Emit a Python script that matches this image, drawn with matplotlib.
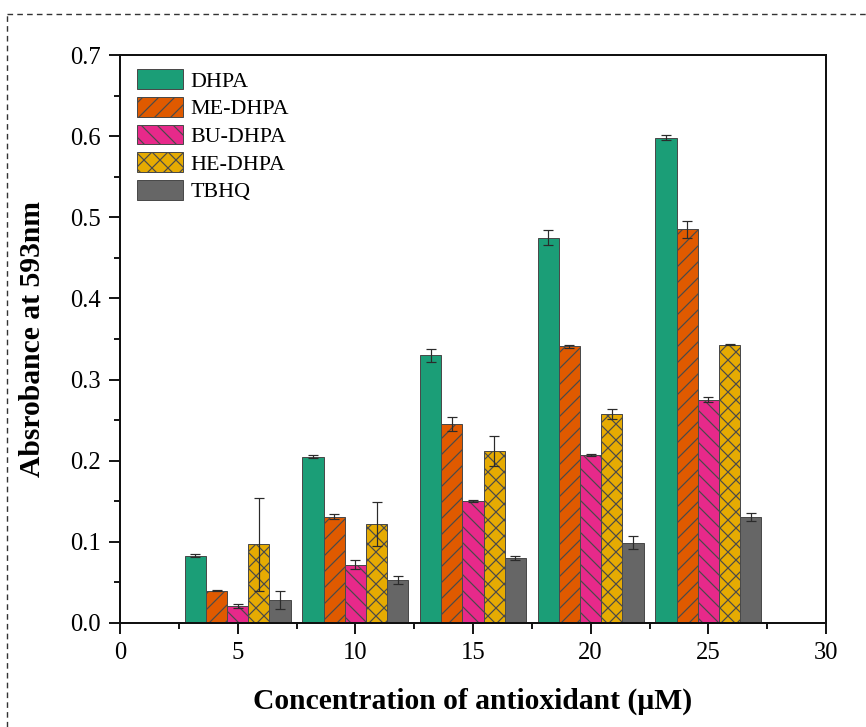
import matplotlib
matplotlib.use("Agg")
import matplotlib.pyplot as plt
import numpy as np
from matplotlib.ticker import MultipleLocator
from matplotlib.lines import Line2D

# Concentrations (uM) and absorbance readings with standard deviations
concentrations = [5, 10, 15, 20, 25]
series_names = ["DHPA", "ME-DHPA", "BU-DHPA", "HE-DHPA", "TBHQ"]

dhpa = [0.083, 0.205, 0.330, 0.475, 0.598]
me_dhpa = [0.040, 0.131, 0.245, 0.341, 0.485]
bu_dhpa = [0.021, 0.072, 0.150, 0.207, 0.275]
he_dhpa = [0.097, 0.122, 0.212, 0.258, 0.343]
tbhq = [0.028, 0.053, 0.080, 0.099, 0.131]

dhpa_err = [0.002, 0.002, 0.008, 0.009, 0.003]
me_dhpa_err = [0.001, 0.003, 0.009, 0.002, 0.010]
bu_dhpa_err = [0.002, 0.006, 0.001, 0.001, 0.003]
he_dhpa_err = [0.057, 0.027, 0.018, 0.006, 0.001]
tbhq_err = [0.011, 0.005, 0.003, 0.008, 0.005]

values = [dhpa, me_dhpa, bu_dhpa, he_dhpa, tbhq]
errors = [dhpa_err, me_dhpa_err, bu_dhpa_err, he_dhpa_err, tbhq_err]
colors = ["#1b9e77", "#e05a00", "#e7298a", "#e6ab02", "#666666"]
hatches = ["", "///", "\\\\\\", "xxx", ""]

plt.rcParams["font.family"] = ["Liberation Serif", "DejaVu Serif"]
plt.rcParams["hatch.linewidth"] = 0.6
plt.rcParams["hatch.color"] = "#2a1f14"

DPI = 144
fig = plt.figure(figsize=(866 / DPI, 727 / DPI), dpi=DPI)
ax = fig.add_axes([0.1386, 0.1431, 0.9538 - 0.1386, 0.9243 - 0.1431])

bar_w = 0.9
x = np.array(concentrations, dtype=float)
for i, (name, vals, errs) in enumerate(zip(series_names, values, errors)):
    offs = (i - 2) * bar_w
    ax.bar(x + offs, vals, width=bar_w, color=colors[i], edgecolor="#4a4a4a",
           linewidth=0.5, hatch=hatches[i], label=name, zorder=2)
    ax.errorbar(x + offs, vals, yerr=errs, fmt="none", ecolor="#2b2b2b",
                elinewidth=0.6, capsize=2.6, capthick=0.6, zorder=3)

ax.set_xlim(0, 30)
ax.set_ylim(0, 0.7)
ax.xaxis.set_major_locator(MultipleLocator(5))
ax.xaxis.set_minor_locator(MultipleLocator(2.5))
ax.yaxis.set_major_locator(MultipleLocator(0.1))
ax.yaxis.set_minor_locator(MultipleLocator(0.05))
ax.yaxis.set_major_formatter(matplotlib.ticker.FormatStrFormatter("%.1f"))

ax.tick_params(which="major", direction="out", length=5.5, width=0.9,
               labelsize=12.3, pad=4, top=False, right=False)
ax.tick_params(which="minor", direction="out", length=2.8, width=0.9,
               top=False, right=False)
for sp in ax.spines.values():
    sp.set_linewidth(1.0)
    sp.set_color("#111111")

ax.set_xlabel("Concentration of antioxidant (\u03bcM)", fontsize=14.8,
              fontweight="bold", labelpad=12)
ax.set_ylabel("Absrobance at 593nm", fontsize=14.8, fontweight="bold",
              labelpad=12)

leg = ax.legend(loc="upper left", bbox_to_anchor=(0.024, 0.975),
                frameon=False, fontsize=11, handlelength=2.1,
                handleheight=1.0, labelspacing=0.24, handletextpad=0.33,
                borderpad=0, borderaxespad=0)

# dashed frame around the figure (open on the right and bottom)
fx0 = 7 / 866
fy1 = 1 - 14 / 727
frame_kw = dict(color="#333333", linewidth=0.7, linestyle=(0, (4, 3)),
                transform=fig.transFigure)
fig.add_artist(Line2D([fx0, 1.0], [fy1, fy1], **frame_kw))
fig.add_artist(Line2D([fx0, fx0], [0.0, fy1], **frame_kw))

fig.savefig("out.png", dpi=DPI)
